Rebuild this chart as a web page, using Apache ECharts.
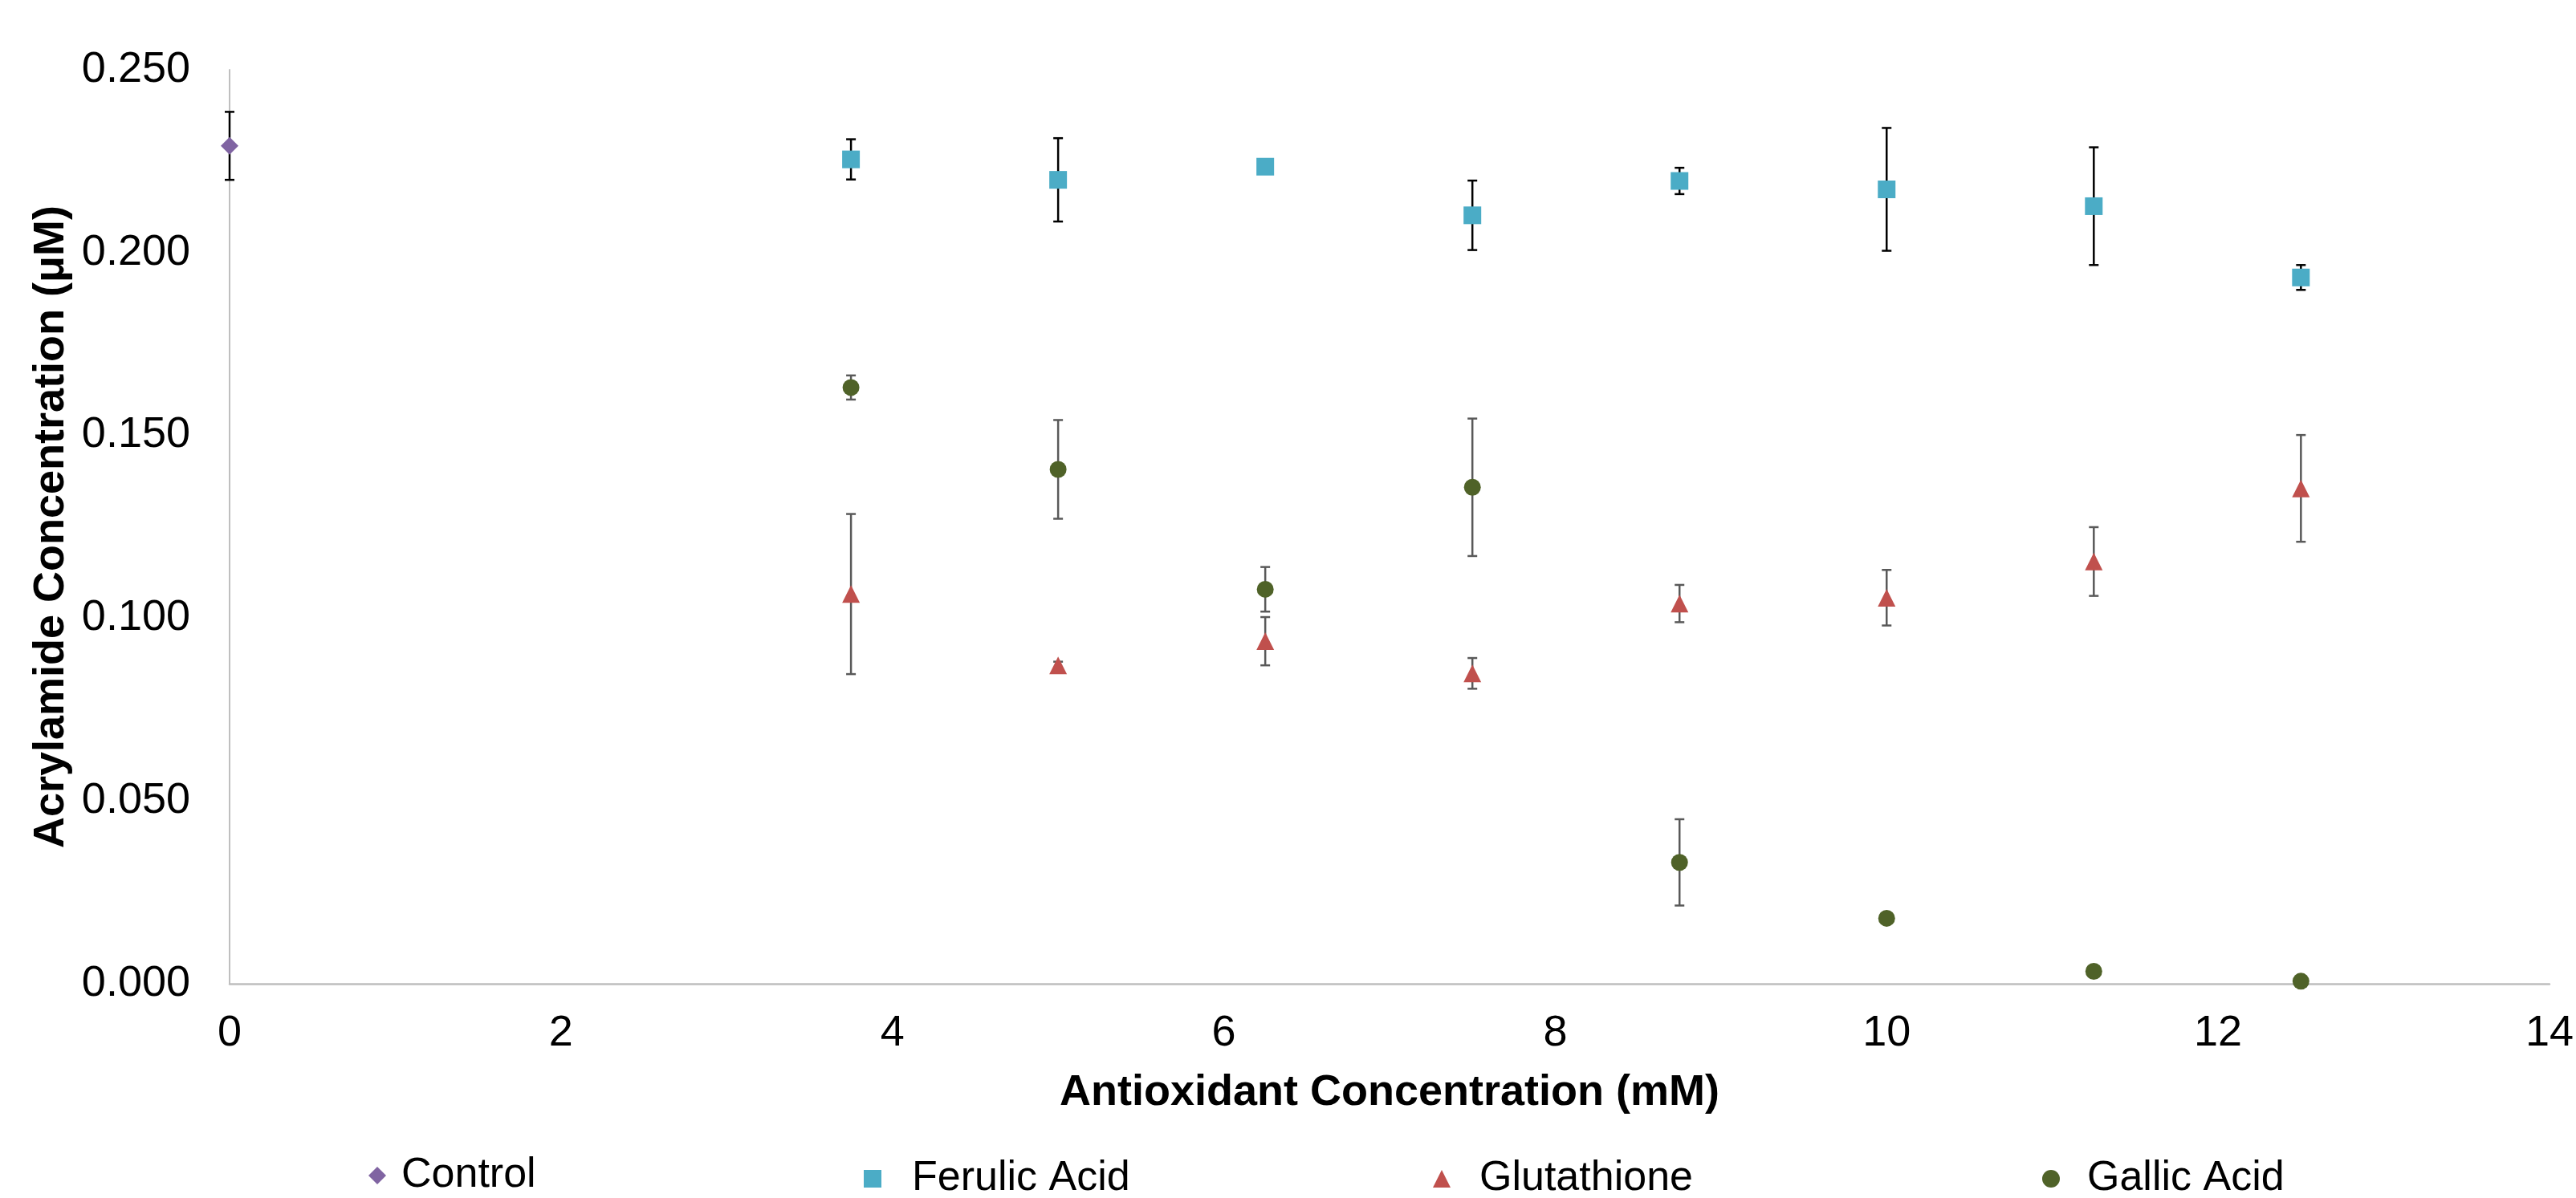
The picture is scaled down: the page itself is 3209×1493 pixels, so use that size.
<!DOCTYPE html>
<html>
<head>
<meta charset="utf-8">
<title>Acrylamide vs antioxidant</title>
<script src="https://cdn.jsdelivr.net/npm/echarts@6/dist/echarts.min.js"></script>
<style>
  html, body { margin: 0; padding: 0; background: #fff; }
  #mainChart { width: 3209px; height: 1493px; }
</style>
</head>
<body>
<div id="mainChart"></div>
<script type="text/javascript">
// data
var controlX = [0];
var controlY = [0.2292];
var controlErr = [0.0093];

var doseX = [3.75, 5, 6.25, 7.5, 8.75, 10, 11.25, 12.5];

var ferulicY   = [0.2255, 0.2199, 0.2235, 0.2102, 0.2196, 0.2173, 0.2127, 0.1932];
var ferulicErr = [0.0055, 0.0114, 0,      0.0095, 0.0036, 0.0168, 0.0161, 0.0034];

var glutathioneY   = [0.1066, 0.0871, 0.0937, 0.0849, 0.1040, 0.1056, 0.1155, 0.1355];
var glutathioneErr = [0.0219, 0.0010, 0.0066, 0.0042, 0.0051, 0.0076, 0.0094, 0.0146];

var gallicY   = [0.1631, 0.1407, 0.1079, 0.1358, 0.0332, 0.0179, 0.0034, 0.0007];
var gallicErr = [0.0033, 0.0135, 0.0061, 0.0188, 0.0118, 0,      0,      0];

var xTicks = [0, 2, 4, 6, 8, 10, 12, 14];
var yTicks = [0, 0.05, 0.1, 0.15, 0.2, 0.25];

var FONT = '"Liberation Sans", Arial, sans-serif';

function pairs(xs, ys) {
    return xs.map(function (x, i) { return [x, ys[i]]; });
}
function triples(xs, ys, es) {
    return xs.map(function (x, i) { return [x, ys[i], es[i]]; });
}

// error bars drawn with a custom series
function errorSeries(name, xs, ys, es, color, lw) {
    return {
        type: 'custom',
        name: name,
        z: 1,
        silent: true,
        encode: { x: 0, y: 1 },
        data: triples(xs, ys, es),
        renderItem: function (params, api) {
            var x = api.value(0), y = api.value(1), e = api.value(2);
            if (!e) return null;
            var top = api.coord([x, y + e]);
            var bot = api.coord([x, y - e]);
            var w = 6;
            var st = { stroke: color, lineWidth: lw };
            return {
                type: 'group',
                children: [
                    { type: 'line', shape: { x1: top[0], y1: top[1], x2: bot[0], y2: bot[1] }, style: st },
                    { type: 'line', shape: { x1: top[0] - w, y1: top[1], x2: top[0] + w, y2: top[1] }, style: st },
                    { type: 'line', shape: { x1: bot[0] - w, y1: bot[1], x2: bot[0] + w, y2: bot[1] }, style: st }
                ]
            };
        }
    };
}

function pointSeries(name, xs, ys, symbol, size, color) {
    return {
        type: 'scatter',
        name: name,
        z: 3,
        symbol: symbol,
        symbolSize: size,
        itemStyle: { color: color, opacity: 1 },
        data: pairs(xs, ys)
    };
}

function legendAt(name, left, top, padTop, padLeft) {
    return {
        data: [name],
        left: left,
        top: top,
        padding: 0,
        itemWidth: 22,
        itemHeight: 22,
        selectedMode: false,
        textStyle: {
            fontSize: 52, fontFamily: FONT, color: '#000',
            padding: [padTop, 0, 0, padLeft]
        }
    };
}

var myChart = echarts.init(document.getElementById('mainChart'));

var options = {
    backgroundColor: '#fff',
    animation: false,
    grid: { left: 286, right: 25, top: 87, bottom: 267 },
    legend: [
        legendAt('Control', 459, 1439, 0, 14),
        legendAt('Ferulic Acid', 1076, 1443, 14, 33),
        legendAt('Glutathione', 1785, 1443, 14, 31),
        legendAt('Gallic Acid', 2544, 1443, 14, 29)
    ],
    xAxis: {
        type: 'value',
        min: xTicks[0],
        max: xTicks[xTicks.length - 1],
        interval: 2,
        name: 'Antioxidant Concentration (mM)',
        nameLocation: 'middle',
        nameGap: 109,
        nameTextStyle: { fontSize: 54, fontWeight: 'bold', fontFamily: FONT, color: '#000' },
        axisLine: { show: true, lineStyle: { color: '#bfbfbf', width: 2.5 } },
        axisTick: { show: false },
        splitLine: { show: false },
        axisLabel: { fontSize: 54, fontFamily: FONT, color: '#000', margin: 35 }
    },
    yAxis: {
        type: 'value',
        min: yTicks[0],
        max: yTicks[yTicks.length - 1],
        interval: 0.05,
        name: 'Acrylamide Concentration (μM)',
        nameLocation: 'middle',
        nameGap: 194,
        nameTextStyle: { fontSize: 54, fontWeight: 'bold', fontFamily: FONT, color: '#000' },
        axisLine: { show: true, lineStyle: { color: '#bfbfbf', width: 2 } },
        axisTick: { show: false },
        splitLine: { show: false },
        axisLabel: {
            fontSize: 54, fontFamily: FONT, color: '#000', margin: 49,
            formatter: function (v) { return v.toFixed(3); }
        }
    },
    series: [
        errorSeries('Control err', controlX, controlY, controlErr, '#000', 2.5),
        errorSeries('Ferulic err', doseX, ferulicY, ferulicErr, '#000', 2.5),
        errorSeries('Glutathione err', doseX, glutathioneY, glutathioneErr, '#595959', 2.5),
        errorSeries('Gallic err', doseX, gallicY, gallicErr, '#595959', 2.5),
        pointSeries('Control', controlX, controlY, 'diamond', 22, '#8064a2'),
        pointSeries('Ferulic Acid', doseX, ferulicY, 'rect', 22, '#4bacc6'),
        pointSeries('Glutathione', doseX, glutathioneY, 'triangle', 22, '#c0504d'),
        pointSeries('Gallic Acid', doseX, gallicY, 'circle', 21, '#4f6228')
    ]
};

myChart.setOption(options);
</script>
</body>
</html>
